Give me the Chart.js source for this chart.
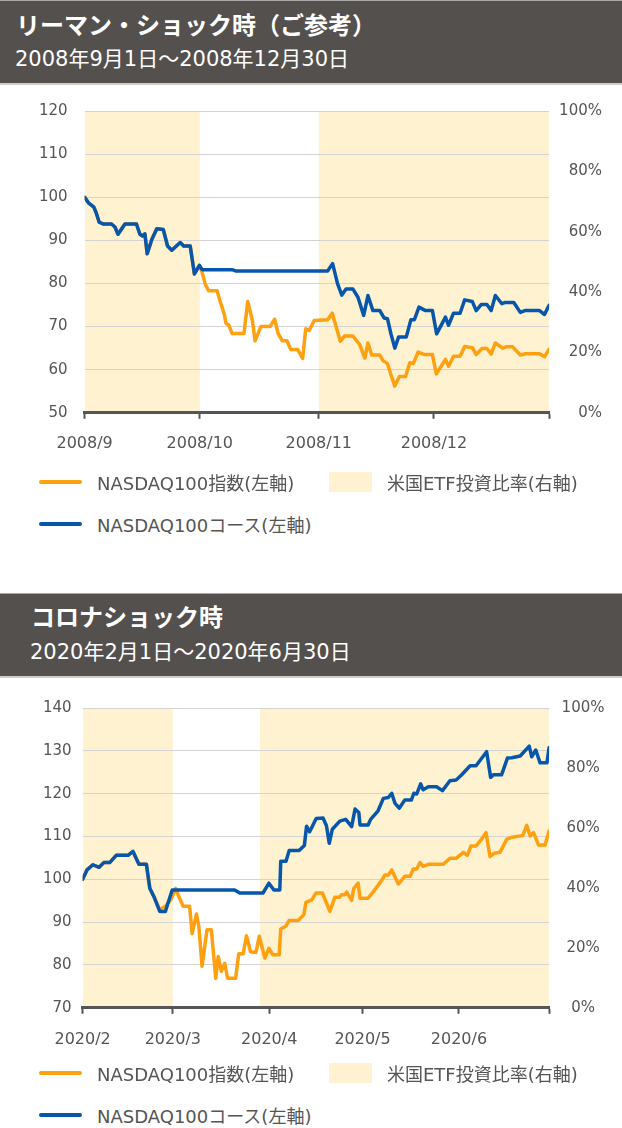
<!DOCTYPE html>
<html lang="ja">
<head>
<meta charset="utf-8">
<title>NASDAQ100コース</title>
<script src="https://cdn.jsdelivr.net/npm/chart.js@4.4.1/dist/chart.umd.min.js"></script>
<style>
  html, body { margin: 0; padding: 0; background: #fff; }
  body {
    position: relative; width: 622px; height: 1128px; overflow: hidden;
    font-family: "DejaVu Sans", "Noto Sans CJK JP", sans-serif;
  }
  .header {
    position: absolute; left: 0; width: 622px; height: 85px; box-sizing: border-box;
    background: #54504d; color: #fff;
    border-top: 1px solid #a8a8a8; border-bottom: 2px solid #cdcdcd;
  }
  .header h2 { position: absolute; margin: 0; font-size: 24px; font-weight: bold; line-height: 24px; }
  .header p  { position: absolute; margin: 0; font-size: 21px; line-height: 21px; }
  .chart-box { position: absolute; left: 0; width: 622px; height: 400px; }
  .legend-item {
    position: absolute; height: 24px; display: flex; align-items: center;
    font-size: 18px; color: #555; white-space: nowrap;
  }
  .legend-item .swatch-line { width: 43px; height: 4px; border-radius: 2px; margin-right: 15px; }
  .legend-item .swatch-box  { width: 43px; height: 20px; margin-right: 15px; }
</style>
</head>
<body>

<div class="header" style="top:0;">
  <h2 style="left:16px; top:13px;">リーマン・ショック時（ご参考）</h2>
  <p style="left:15px; top:48px;">2008年9月1日～2008年12月30日</p>
</div>
<div class="chart-box" style="top:85px;"><canvas id="lehmanChart"></canvas></div>
<div id="lehmanLegend"></div>

<div class="header" style="top:593px;">
  <h2 style="left:31px; top:12px;">コロナショック時</h2>
  <p style="left:30px; top:48px;">2020年2月1日～2020年6月30日</p>
</div>
<div class="chart-box" style="top:678px;"><canvas id="coronaChart"></canvas></div>
<div id="coronaLegend"></div>

<script>
// --- 色 ---
const colors = {
    index: '#ffa010',     // NASDAQ100指数
    course: '#0656ab',    // NASDAQ100コース
    ratio: '#fff2d0',     // 米国ETF投資比率
    grid: '#d3d3d3',
    axis: '#555555',
    text: '#555555'
};

const labelIndex = 'NASDAQ100指数(左軸)';
const labelCourse = 'NASDAQ100コース(左軸)';
const labelRatio = '米国ETF投資比率(右軸)';

// --- リーマン・ショック (x = 2008/9/1 からの日数) ---
const lehmanTickDays = [0, 30, 61, 91, 121];
const lehmanTickLabels = ['2008/9', '2008/10', '2008/11', '2008/12', ''];

const lehmanCourseDays = [0, 1, 2.4, 3, 3.8, 4.8, 7, 7.9, 8.7, 10.5, 13.5, 14.4, 15.1, 15.7, 16.3, 17.5, 18.8, 20.5, 21.6, 22.7,
    24.9, 25.8, 27.5, 28.6, 29.9, 30.6, 38.4, 39.3, 63.3, 64.6, 65.9, 67, 68.1, 69.9, 71.2, 72.7, 73.8, 75.1, 76.9, 78,
    78.9, 79.8, 80.8, 81.8, 83.8, 85, 85.9, 87.1, 88.8, 90.6, 91.7, 94, 94.8, 96.1, 97.8, 99, 101, 102, 103.3, 104.8,
    105.9, 107, 108.7, 109.6, 111.8, 113.5, 114.7, 118.5, 119.8, 120.5, 121];
const lehmanCourseValues = [100, 98.7, 97.7, 96.4, 94.2, 93.8, 93.8, 93.1, 91.4, 93.8, 93.8, 91.4, 91.0, 91.5, 86.9, 90.2, 92.7, 92.5, 88.7, 87.7,
    89.5, 88.7, 88.7, 82.2, 84.2, 83.2, 83.2, 82.9, 82.9, 84.6, 79.9, 77.3, 78.7, 78.7, 76.8, 72.6, 77.2, 73.7, 73.7, 72.0,
    71.8, 68.3, 65.0, 67.6, 67.6, 71.6, 71.6, 74.5, 73.7, 73.7, 68.3, 72.2, 70.3, 73.1, 73.1, 76.2, 75.8, 73.7, 75.1, 75.1,
    73.7, 77.2, 75.3, 75.6, 75.6, 73.3, 73.7, 73.7, 72.8, 74.1, 74.9];

const lehmanIndexDays = [0, 1, 2.4, 3, 3.8, 4.8, 7, 7.9, 8.7, 10.5, 13.5, 14.4, 15.1, 15.7, 16.3, 17.5, 18.8, 20.5, 21.6, 22.7,
    24.9, 25.8, 27.5, 28.6, 29.9, 30.6, 31.4, 32.3, 34.5, 35.4, 36.4, 36.8, 37.6, 38.4, 41.5, 42.5, 43.7, 44.4, 45.9, 48.3,
    49.5, 50.4, 51.5, 52.7, 53.7, 55.5, 56.8, 57.6, 58.5, 59.8, 63.3, 64.5, 66.6, 67.7, 69.9, 71.6, 73, 73.8, 74.8, 76.9,
    77.7, 78.9, 79.8, 80.8, 82, 83.6, 84.7, 85.6, 86.9, 88.5, 90.6, 91.6, 94, 94.8, 96.1, 97.8, 99, 101, 102, 103.5,
    104.8, 105.9, 107, 108.9, 109.8, 111.5, 113.5, 114.8, 118.5, 119.8, 121];
const lehmanIndexValues = [100, 98.7, 97.7, 96.4, 94.2, 93.8, 93.8, 93.1, 91.4, 93.8, 93.8, 91.4, 91.0, 91.5, 86.9, 90.2, 92.7, 92.5, 88.7, 87.7,
    89.5, 88.7, 88.7, 82.2, 84.2, 82.6, 79.9, 78.3, 78.3, 75.6, 72.8, 70.8, 70.3, 68.4, 68.4, 75.8, 71.4, 66.7, 70.0, 70.0,
    71.7, 68.4, 66.7, 66.7, 64.7, 64.7, 62.6, 69.5, 69.1, 71.4, 71.6, 73.1, 66.6, 67.8, 67.8, 65.9, 62.7, 66.2, 63.4, 63.4,
    62.1, 61.4, 58.8, 56.2, 58.4, 58.4, 61.6, 61.4, 64.1, 63.5, 63.5, 59.0, 62.4, 60.8, 63.1, 63.1, 65.4, 65.1, 63.5, 64.9,
    64.9, 63.6, 66.2, 65.0, 65.3, 65.3, 63.4, 63.7, 63.7, 63.0, 64.7];

const lehmanRatioDays = [0, 30, 61, 121];
const lehmanRatioValues = [100, 0, 100, 100];

// --- コロナショック (x = 2020/2/1 からの日数) ---
const coronaTickDays = [0, 29, 60, 90, 121, 150];
const coronaTickLabels = ['2020/2', '2020/3', '2020/4', '2020/5', '2020/6', ''];

const coronaCourseDays = [0, 1.4, 3.3, 5.3, 6.8, 8.7, 10.8, 14.6, 16.2, 18.1, 20.5, 21.6, 22.9, 24.8, 26.6, 28.8, 48.9, 50.5, 58, 59.9,
    61.5, 63.4, 63.7, 65.4, 66.4, 69.6, 71.3, 72, 73, 75.1, 77.3, 78.4, 79.3, 80.3, 82.7, 84.6, 86.5, 87.6, 88.8, 89.2,
    91.8, 92.6, 95, 96.7, 98.3, 99.4, 100.4, 101.8, 103.6, 105.7, 106.5, 107.4, 108.7, 109.5, 111.2, 113.8, 115.7, 118.1, 120.1, 121.9,
    124.6, 126.5, 129.9, 131.2, 132.1, 134.7, 136.6, 138, 140.7, 143.6, 144.4, 145.7, 147.1, 149.3, 150];
const coronaCourseValues = [100, 102.2, 103.4, 102.8, 103.9, 103.9, 105.6, 105.6, 106.5, 103.5, 103.5, 97.9, 96.0, 92.5, 92.5, 97.5, 97.5, 96.8, 96.8, 99.1,
    97.5, 97.5, 104.2, 104.2, 106.7, 106.7, 107.9, 112.4, 111.1, 114.2, 114.3, 112.5, 108.4, 111.7, 113.6, 114.0, 112.3, 116.4, 115.6, 112.7,
    112.7, 114.0, 116.0, 118.9, 119.1, 120.1, 117.8, 116.6, 118.5, 118.5, 120.1, 119.9, 122.3, 120.9, 121.6, 121.6, 120.7, 123.0, 123.2, 124.4,
    126.5, 126.5, 129.8, 123.8, 124.4, 124.4, 128.3, 128.4, 128.8, 131.1, 128.6, 130.2, 127.2, 127.2, 130.8];

const coronaIndexDays = [0, 1.4, 3.3, 5.3, 6.8, 8.7, 10.8, 14.6, 16.2, 18.1, 20.5, 21.6, 22.9, 24.8, 26.6, 28.5, 29.9, 30.7, 32.3, 34.4,
    35.2, 36.6, 37.4, 38.4, 40, 41.4, 42.8, 43.6, 44.6, 45.7, 46.6, 49.2, 50.2, 51.6, 52.7, 54, 55.7, 56.8, 58.6, 59.9,
    61.1, 63.2, 63.7, 65.4, 66.4, 69.3, 71.1, 71.8, 73.7, 75, 77.1, 79.5, 81.1, 82.5, 83.3, 84.3, 84.9, 86.5, 87.2, 88.6,
    89.2, 91.8, 93.7, 96.1, 97.2, 98.3, 99.4, 101.5, 103.6, 105.3, 106.3, 107.4, 108.5, 109.5, 111.2, 116, 118.1, 120.1, 122.4, 123.7,
    124.9, 126.5, 128.3, 129.7, 131, 132.4, 134.2, 136.4, 138, 141.5, 142.8, 143.9, 145, 146.6, 148.7, 150];
const coronaIndexValues = [100, 102.2, 103.4, 102.8, 103.9, 103.9, 105.6, 105.6, 106.5, 103.5, 103.5, 97.9, 96.0, 92.9, 93.7, 95.4, 97.9, 96.4, 93.7, 93.7,
    87.3, 91.9, 88.8, 79.7, 88.2, 88.2, 76.9, 82.0, 78.5, 80.4, 76.9, 76.9, 82.6, 82.6, 86.8, 83.1, 82.9, 86.7, 81.6, 83.9,
    82.4, 82.4, 88.4, 89.1, 90.4, 90.4, 91.7, 94.6, 95.2, 96.8, 96.8, 92.5, 95.8, 95.8, 96.4, 96.4, 97.0, 95.1, 97.9, 99.1,
    95.6, 95.6, 97.3, 99.7, 101.0, 101.0, 102.2, 98.9, 100.7, 100.7, 102.4, 102.4, 103.9, 103.0, 103.5, 103.5, 104.9, 104.9, 106.3, 105.6,
    107.8, 107.8, 109.4, 110.9, 105.3, 106.1, 106.3, 109.4, 109.8, 110.2, 112.6, 110.1, 110.9, 108.0, 108.0, 111.3];

const coronaRatioDays = [0, 29, 57, 150];
const coronaRatioValues = [100, 0, 100, 100];

Chart.defaults.font.family = '"DejaVu Sans", "Noto Sans CJK JP", sans-serif';
Chart.defaults.font.size = 15;
Chart.defaults.color = colors.text;

function toPoints(days, values) {
    return days.map((d, i) => ({ x: d, y: values[i] }));
}

/**
 * 2軸チャート（指数・コース + 投資比率の帯）
 * 注: Chart.js は ticks.padding を軸幅に2回分とるので、padding はそれに合わせている
 */
function buildChart(canvasId, cfg) {
    const ctx = document.getElementById(canvasId);

    const lineStyle = {
        type: 'line',
        yAxisID: 'y',
        borderWidth: 3.5,
        pointRadius: 0,
        tension: 0,
        borderJoinStyle: 'round',
        borderCapStyle: 'round',
        fill: false
    };

    return new Chart(ctx, {
        type: 'line',
        data: {
            datasets: [
                { ...lineStyle, label: labelCourse, data: toPoints(cfg.courseDays, cfg.courseValues),
                  borderColor: colors.course, backgroundColor: colors.course, order: 0 },
                { ...lineStyle, label: labelIndex, data: toPoints(cfg.indexDays, cfg.indexValues),
                  borderColor: colors.index, backgroundColor: colors.index, order: 1 },
                {
                    type: 'line', label: labelRatio, yAxisID: 'y2',
                    data: toPoints(cfg.ratioDays, cfg.ratioValues),
                    stepped: true, fill: 'origin',
                    backgroundColor: colors.ratio, borderColor: 'rgba(0,0,0,0)',
                    borderWidth: 0, pointRadius: 0, order: 2
                }
            ]
        },
        options: {
            responsive: true,
            maintainAspectRatio: false,
            animation: false,
            events: [],
            layout: { padding: cfg.padding },
            scales: {
                x: {
                    type: 'linear',
                    min: cfg.tickDays[0],
                    max: cfg.tickDays[cfg.tickDays.length - 1],
                    afterBuildTicks: axis => { axis.ticks = cfg.tickDays.map(v => ({ value: v })); },
                    ticks: {
                        padding: cfg.xPad,
                        font: { size: 16 },
                        maxRotation: 0,
                        autoSkip: false,
                        callback: (value, i) => cfg.tickLabels[i]
                    },
                    grid: { drawOnChartArea: false, drawTicks: true, tickLength: 6, tickWidth: 2, tickColor: colors.axis },
                    border: { display: true, color: colors.axis, width: 3 }
                },
                y: {
                    position: 'left',
                    min: cfg.yMin, max: cfg.yMax,
                    ticks: { stepSize: 10, padding: cfg.yPad },
                    grid: { color: colors.grid, lineWidth: 1, drawTicks: false },
                    border: { display: false }
                },
                y2: {
                    position: 'right',
                    min: 0, max: 100,
                    ticks: { stepSize: 20, padding: cfg.y2Pad, crossAlign: cfg.y2Align, callback: v => v + '%' },
                    grid: { display: false, drawTicks: false },
                    border: { display: false }
                }
            },
            plugins: {
                legend: { display: false },
                tooltip: { enabled: false },
                filler: { drawTime: 'beforeDraw' } // 帯をグリッドの下に描く
            }
        }
    });
}

/**
 * HTML凡例（データセットの色とラベルから作る）
 */
function buildLegend(containerId, chart, row1, row2) {
    const box = document.getElementById(containerId);
    const ds = chart.data.datasets;
    const items = [
        { d: ds[1], left: 39, top: row1, kind: 'line' },
        { d: ds[2], left: 329, top: row1, kind: 'box' },
        { d: ds[0], left: 39, top: row2, kind: 'line' }
    ];
    items.forEach(it => {
        const el = document.createElement('div');
        el.className = 'legend-item';
        el.style.left = it.left + 'px';
        el.style.top = (it.top - 12) + 'px';
        const sw = document.createElement('span');
        sw.className = it.kind === 'line' ? 'swatch-line' : 'swatch-box';
        sw.style.background = it.kind === 'line' ? it.d.borderColor : it.d.backgroundColor;
        el.appendChild(sw);
        el.appendChild(document.createTextNode(it.d.label));
        box.appendChild(el);
    });
}

const lehmanChart = buildChart('lehmanChart', {
    courseDays: lehmanCourseDays, courseValues: lehmanCourseValues,
    indexDays: lehmanIndexDays, indexValues: lehmanIndexValues,
    ratioDays: lehmanRatioDays, ratioValues: lehmanRatioValues,
    tickDays: lehmanTickDays, tickLabels: lehmanTickLabels,
    yMin: 50, yMax: 120,
    padding: { top: 24, left: 22, right: 20, bottom: 17 },
    xPad: 15, yPad: 17, y2Pad: 5, y2Align: 'far'
});

const coronaChart = buildChart('coronaChart', {
    courseDays: coronaCourseDays, courseValues: coronaCourseValues,
    indexDays: coronaIndexDays, indexValues: coronaIndexValues,
    ratioDays: coronaRatioDays, ratioValues: coronaRatioValues,
    tickDays: coronaTickDays, tickLabels: coronaTickLabels,
    yMin: 70, yMax: 140,
    padding: { top: 30, left: 32, right: 5, bottom: 13 },
    xPad: 16, yPad: 11, y2Pad: 12.5, y2Align: 'center'
});

buildLegend('lehmanLegend', lehmanChart, 482, 524);
buildLegend('coronaLegend', coronaChart, 1073, 1115);
</script>
</body>
</html>
